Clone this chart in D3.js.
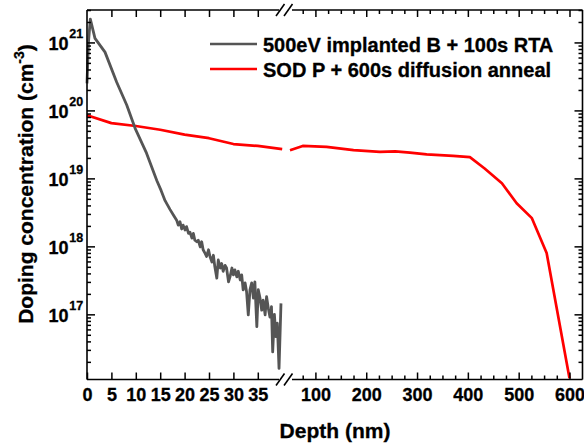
<!DOCTYPE html>
<html><head><meta charset="utf-8">
<script src="https://cdn.jsdelivr.net/npm/d3@7"></script>
<style>
body{margin:0;background:#fff;}
svg{display:block;font-family:"Liberation Sans",Arial,sans-serif;font-weight:bold;}
text{stroke:#000;stroke-width:0.3px;}
</style></head><body>
<svg id="c" width="584" height="448"></svg>
<script>
// ---------- data ----------
const seriesNames = ["500eV implanted B + 100s RTA", "SOD P + 600s diffusion anneal"];
const seriesColors = ["#555555", "#ff0000"];

const boronDepth = [0, 0.3, 0.68, 1.64, 3.69, 6.09, 8.14, 9.84, 12.2, 14.3, 15.2, 16.0, 17.0, 17.7, 18.4, 18.7, 19.06, 19.4, 19.7, 20.1, 20.4, 20.8, 21.1, 21.5, 21.8, 22.1, 22.5, 22.8, 23.2, 23.5, 23.8, 24.2, 24.5, 24.9, 25.2, 25.6, 25.9, 26.2, 26.6, 26.9, 27.3, 27.6, 27.9, 28.3, 28.6, 29.0, 29.3, 29.7, 30.0, 30.3, 30.7, 31.0, 31.4, 31.7, 32.0, 32.4, 32.7, 33.05, 33.4, 33.75, 34.1, 34.4, 34.8, 35.1, 35.45, 35.8, 36.1, 36.5, 36.8, 37.15, 37.5, 37.8, 38.05, 38.4, 38.7, 39.0, 39.35, 39.75];
const boronConc = [2.5e20, 1.0e21, 2.2e21, 1.15e21, 7.2e20, 2.6e20, 1.2e20, 5.5e19, 2.35e19, 9.3e18, 6.6e18, 4.7e18, 3.5e18, 2.9e18, 2.4e18, 2.05e18, 2.3e18, 1.8e18, 2.05e18, 1.74e18, 1.95e18, 1.55e18, 1.62e18, 1.32e18, 1.55e18, 1.23e18, 1.17e18, 1.23e18, 9.8e17, 1.17e18, 8.9e17, 7.9e17, 7.1e17, 8.9e17, 7.1e17, 5.9e17, 7.4e17, 5.0e17, 3.4e17, 6.3e17, 4.8e17, 5.6e17, 4.3e17, 5.25e17, 4.8e17, 3.0e17, 3.55e17, 4.8e17, 3.8e17, 4.5e17, 3.55e17, 4.3e17, 3.2e17, 3.8e17, 2.3e17, 2.9e17, 2.15e17, 9.8e16, 2.3e17, 2.9e17, 1.74e17, 3.0e17, 6.6e16, 2.3e17, 1.74e17, 1.15e17, 1.62e17, 9.8e16, 1.82e17, 1.23e17, 9.1e16, 1.3e17, 2.8e16, 1.0e17, 4.7e16, 7.4e16, 1.6e16, 1.45e17];

const phosDepth = [0, 5, 10, 15, 20, 25, 30, 35, 40, 50, 75, 122, 175, 227, 257, 286, 319, 371, 404, 433, 467, 496, 526, 555, 600];
const phosConc = [8.5e19, 6.5e19, 5.9e19, 5.2e19, 4.4e19, 3.9e19, 3.2e19, 3.0e19, 2.7e19, 2.6e19, 3.0e19, 2.9e19, 2.6e19, 2.45e19, 2.5e19, 2.4e19, 2.25e19, 2.15e19, 2.05e19, 1.4e19, 8.5e18, 4.3e18, 2.6e18, 8.0e17, 1.15e16];

const xDomainLeft = [0, 40];
const xDomainRight = [50, 625];
const yDomain = [1.1e16, 3e21];
const xTicksLeft = [0, 5, 10, 15, 20, 25, 30, 35];
const xTicksRight = [100, 200, 300, 400, 500, 600];
const xMinorRight = [75, 125, 150, 175, 225, 250, 275, 325, 350, 375, 425, 450, 475, 525, 550, 575];
const yTickExps = [17, 18, 19, 20, 21];
const xTitle = "Depth (nm)";
const yTitleMain = "Doping concentration (cm";
const yTitleSup = "-3";
const yTitleEnd = ")";

// ---------- layout ----------
const L = 87, R = 582.5, T = 10, B = 379.5;
const brkA = 279, brkB = 292;
const svg = d3.select("#c");

const xL = d3.scaleLinear(xDomainLeft, [L, 282.2]);
const xR = d3.scaleLinear(xDomainRight, [290, 582.2]);
const y = d3.scaleLog(yDomain, [B, T]);

const yMajor = yTickExps.map(e => Math.pow(10, e));
const yMinor = [];
for (let e = 16; e <= 21; e++) for (let m = 2; m <= 9; m++) {
  const v = m * Math.pow(10, e);
  if (v >= yDomain[0] && v <= yDomain[1]) yMinor.push(v);
}

// ---------- data lines ----------
const boron = boronDepth.map((d, i) => [d, boronConc[i]]);
const phos = phosDepth.map((d, i) => [d, phosConc[i]]);
const lineL = d3.line().x(d => xL(d[0])).y(d => y(d[1]));
const lineR = d3.line().x(d => xR(d[0])).y(d => y(d[1]));

svg.append("path").attr("d", lineL(phos.filter(d => d[0] <= xDomainLeft[1])))
  .attr("fill", "none").attr("stroke", seriesColors[1]).attr("stroke-width", 2.7).attr("stroke-linejoin", "round");
svg.append("path").attr("d", lineR(phos.filter(d => d[0] >= xDomainRight[0])))
  .attr("fill", "none").attr("stroke", seriesColors[1]).attr("stroke-width", 2.7).attr("stroke-linejoin", "round");
svg.append("path").attr("d", lineL(boron))
  .attr("fill", "none").attr("stroke", seriesColors[0]).attr("stroke-width", 2.8).attr("stroke-linejoin", "round");

// ---------- axes ----------
function styleAxis(g, fs) {
  g.select(".domain").remove();
  g.selectAll(".tick line").attr("stroke", "#000").attr("stroke-width", 1.5);
  g.selectAll(".tick text").attr("fill", "#000").attr("font-size", fs || 18).attr("font-weight", "bold")
    .attr("font-family", "'Liberation Sans', Arial, sans-serif");
}
// bottom
svg.append("g").attr("transform", `translate(0,${B})`)
  .call(d3.axisBottom(xL).tickValues(xTicksLeft).tickSizeInner(-7).tickSizeOuter(0).tickPadding(9))
  .call(g => styleAxis(g, 18));
svg.append("g").attr("transform", `translate(0,${B})`)
  .call(d3.axisBottom(xR).tickValues(xTicksRight).tickSizeInner(-7).tickSizeOuter(0).tickPadding(9))
  .call(g => styleAxis(g, 18));
svg.append("g").attr("transform", `translate(0,${B})`)
  .call(d3.axisBottom(xR).tickValues(xMinorRight).tickSizeInner(-4).tickSizeOuter(0).tickFormat(""))
  .call(g => styleAxis(g));
// top
svg.append("g").attr("transform", `translate(0,${T})`)
  .call(d3.axisTop(xL).tickValues(xTicksLeft.slice(1)).tickSizeInner(-7).tickSizeOuter(0).tickFormat(""))
  .call(g => styleAxis(g));
svg.append("g").attr("transform", `translate(0,${T})`)
  .call(d3.axisTop(xR).tickValues(xTicksRight).tickSizeInner(-7).tickSizeOuter(0).tickFormat(""))
  .call(g => styleAxis(g));
svg.append("g").attr("transform", `translate(0,${T})`)
  .call(d3.axisTop(xR).tickValues(xMinorRight).tickSizeInner(-4).tickSizeOuter(0).tickFormat(""))
  .call(g => styleAxis(g));
// left / right
[[L, d3.axisLeft], [R, d3.axisRight]].forEach(([xp, ax]) => {
  svg.append("g").attr("transform", `translate(${xp},0)`)
    .call(ax(y).tickValues(yMajor).tickSizeInner(-8).tickSizeOuter(0).tickFormat(""))
    .call(g => styleAxis(g));
  svg.append("g").attr("transform", `translate(${xp},0)`)
    .call(ax(y).tickValues(yMinor).tickSizeInner(-4).tickSizeOuter(0).tickFormat(""))
    .call(g => styleAxis(g));
});
// y tick labels with superscripts
const yl = svg.append("g").attr("fill", "#000");
yTickExps.forEach(e => {
  const yy = y(Math.pow(10, e));
  yl.append("text").attr("x", 68.5).attr("y", yy + 7.5).attr("text-anchor", "end")
    .attr("font-size", 18).text("10");
  yl.append("text").attr("x", 69.3).attr("y", yy - 4.5).attr("text-anchor", "start")
    .attr("font-size", 12.5).text(String(e));
});

// frame lines
const frame = svg.append("g").attr("stroke", "#000").attr("stroke-width", 1.6).attr("fill", "none");
frame.append("line").attr("x1", L).attr("x2", L).attr("y1", T).attr("y2", B);
frame.append("line").attr("x1", R).attr("x2", R).attr("y1", T).attr("y2", B);
[T, B].forEach(yy => {
  frame.append("line").attr("x1", L).attr("x2", brkA).attr("y1", yy).attr("y2", yy);
  frame.append("line").attr("x1", brkB).attr("x2", R).attr("y1", yy).attr("y2", yy);
  frame.append("line").attr("x1", 276).attr("x2", 284.5).attr("y1", yy + 6).attr("y2", yy - 6);
  frame.append("line").attr("x1", 284).attr("x2", 292.5).attr("y1", yy + 6).attr("y2", yy - 6);
});

// axis titles
svg.append("text").attr("x", 335).attr("y", 438).attr("text-anchor", "middle")
  .attr("font-size", 21).attr("fill", "#000").text(xTitle);
const yt = svg.append("text").attr("transform", "translate(33,184) rotate(-90)")
  .attr("text-anchor", "middle").attr("font-size", 21).attr("fill", "#000");
yt.append("tspan").text(yTitleMain);
yt.append("tspan").attr("font-size", 14).attr("dy", -9).text(yTitleSup);
yt.append("tspan").attr("dy", 9).text(yTitleEnd);

// legend
const leg = svg.append("g");
[44, 69].forEach((ly, i) => {
  leg.append("line").attr("x1", 210).attr("x2", 257).attr("y1", ly).attr("y2", ly)
    .attr("stroke", seriesColors[i]).attr("stroke-width", 2.7);
  leg.append("text").attr("x", 263).attr("y", ly + 7.5).attr("font-size", 20).attr("fill", "#000")
    .text(seriesNames[i]);
});
</script>
</body></html>
